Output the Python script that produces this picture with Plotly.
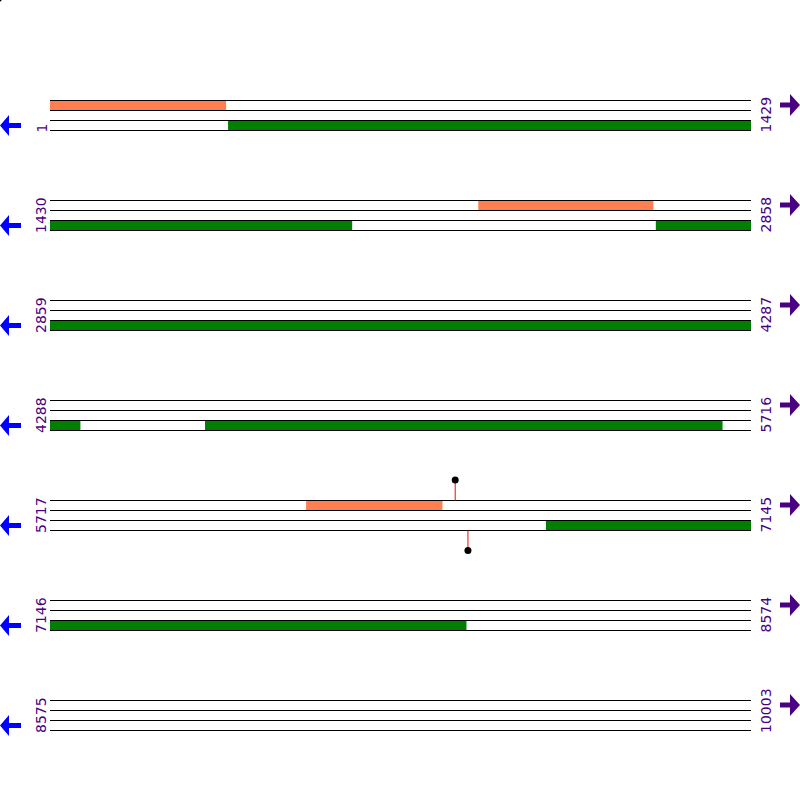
import plotly.graph_objects as go

# ---- data ----
row_starts = [1, 1430, 2859, 4288, 5717, 7146, 8575]
row_ends = [1429, 2858, 4287, 5716, 7145, 8574, 10003]
fwd_start = [1, 2303, 6239]
fwd_end = [359, 2659, 6516]
rev_start = [364, 2665, 4604, 6728]
rev_end = [2045, 4349, 5658, 7994]
site_fwd = [6543]
site_rev = [6569]

# ---- layout constants ----
ROW_LEN = 1429
X0, X1 = 50, 751
TOP, ROW_GAP, LINE_GAP = 100, 100, 10
K = ROW_LEN / (X1 - X0)
TEXT_COL = "#4b0082"


def px2x(p):
    return (p - X0) * K


def split(starts, ends):
    ys, bases, lens = [], [], []
    for r, (rs, re) in enumerate(zip(row_starts, row_ends)):
        for s, e in zip(starts, ends):
            a, b = max(s, rs), min(e, re)
            if a <= b:
                ys.append(r)
                bases.append(a - rs)
                lens.append(b - a + 1)
    return ys, bases, lens


fig = go.Figure()

# track lines
lx, ly = [], []
for r, (rs, re) in enumerate(zip(row_starts, row_ends)):
    for k in range(4):
        y = TOP + r * ROW_GAP + k * LINE_GAP + 0.5
        lx += [0, re - rs + 1, None]
        ly += [y, y, None]
fig.add_trace(go.Scatter(x=lx, y=ly, mode="lines", line=dict(color="black", width=1),
                         hoverinfo="skip", showlegend=False))

# forward features
ys, bases, lens = split(fwd_start, fwd_end)
fig.add_trace(go.Bar(orientation="h", y=[TOP + r * ROW_GAP + 5.5 for r in ys], x=lens, base=bases,
                     width=11, marker=dict(color="#ff7f50", line=dict(width=0)), showlegend=False))
# reverse features
ys, bases, lens = split(rev_start, rev_end)
fig.add_trace(go.Bar(orientation="h", y=[TOP + r * ROW_GAP + 25.5 for r in ys], x=lens, base=bases,
                     width=11, marker=dict(color="#008000", line=dict(width=0)), showlegend=False))


def row_of(p):
    for r, (rs, re) in enumerate(zip(row_starts, row_ends)):
        if rs <= p <= re:
            return r, rs
    return None


# sites
for p in site_fwd:
    r, rs = row_of(p)
    x = p - rs
    y0 = TOP + r * ROW_GAP + 0.5
    fig.add_trace(go.Scatter(x=[x, x], y=[y0, y0 - 20.5], mode="lines", line=dict(color="red", width=1),
                             showlegend=False, hoverinfo="skip"))
    fig.add_trace(go.Scatter(x=[x], y=[y0 - 20.5], mode="markers", marker=dict(color="black", size=7),
                             showlegend=False))
for p in site_rev:
    r, rs = row_of(p)
    x = p - rs
    y0 = TOP + r * ROW_GAP + 30.5
    fig.add_trace(go.Scatter(x=[x, x], y=[y0, y0 + 20], mode="lines", line=dict(color="red", width=1),
                             showlegend=False, hoverinfo="skip"))
    fig.add_trace(go.Scatter(x=[x], y=[y0 + 20], mode="markers", marker=dict(color="black", size=7),
                             showlegend=False))

# arrows
for r in range(len(row_starts)):
    cy = TOP + r * ROW_GAP + 25.5
    pts = [(0, cy), (9, cy - 10.5), (9, cy - 2.5), (21, cy - 2.5), (21, cy + 2.5), (9, cy + 2.5), (9, cy + 10.5), (0, cy)]
    fig.add_trace(go.Scatter(x=[px2x(a) for a, b in pts], y=[b for a, b in pts], mode="lines", fill="toself",
                             fillcolor="#0000ff", line=dict(width=0, color="#0000ff"), showlegend=False, hoverinfo="skip"))
    cy = TOP + r * ROW_GAP + 5
    pts = [(780, cy - 2.5), (790, cy - 2.5), (790, cy - 11), (800, cy), (790, cy + 11), (790, cy + 2.5), (780, cy + 2.5), (780, cy - 2.5)]
    fig.add_trace(go.Scatter(x=[px2x(a) for a, b in pts], y=[b for a, b in pts], mode="lines", fill="toself",
                             fillcolor=TEXT_COL, line=dict(width=0, color=TEXT_COL), showlegend=False, hoverinfo="skip"))

# stray corner dot
fig.add_trace(go.Scatter(x=[px2x(-2)], y=[-2], mode="markers", marker=dict(color="black", size=8),
                         showlegend=False, cliponaxis=True))

# labels
ann = []
for r, (rs, re) in enumerate(zip(row_starts, row_ends)):
    yb = TOP + r * ROW_GAP + 35
    ann.append(dict(x=px2x(41), y=yb, text=str(rs), textangle=-90, showarrow=False, xanchor="center",
                    yanchor="bottom", font=dict(family="DejaVu Sans", size=14, color=TEXT_COL)))
    ann.append(dict(x=px2x(765.5), y=yb, text=str(re), textangle=-90, showarrow=False, xanchor="center",
                    yanchor="bottom", font=dict(family="DejaVu Sans", size=14, color=TEXT_COL)))

fig.update_layout(
    width=800, height=800, margin=dict(l=0, r=0, t=0, b=0),
    paper_bgcolor="white", plot_bgcolor="white", barmode="overlay",
    xaxis=dict(range=[px2x(0), px2x(800)], visible=False, fixedrange=True),
    yaxis=dict(range=[800, 0], visible=False, fixedrange=True),
    annotations=ann, showlegend=False,
)
fig.write_html("out.html", config={"displayModeBar": False},
               post_script="document.body.style.margin='0';document.body.style.padding='0';")
